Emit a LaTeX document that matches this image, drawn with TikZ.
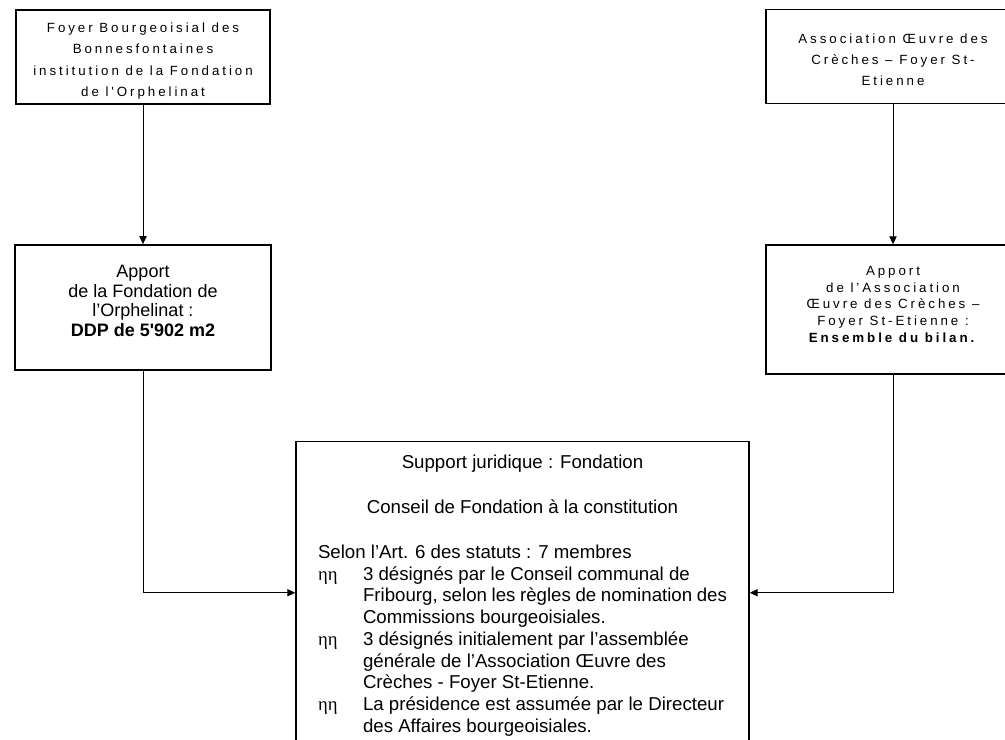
\documentclass[tikz,border=0pt]{standalone}
\usepackage{fontspec}
\setmainfont{Liberation Sans}[Ligatures=TeXOff]
\newfontfamily\widefont{Liberation Sans}[LetterSpace=22,Ligatures=TeXOff]
\newfontfamily\etafont{Liberation Serif}
\usetikzlibrary{positioning,arrows.meta}
\newcommand{\etaitem}{\par\noindent\hangindent=33.75pt\hangafter=1\makebox[33.75pt][l]{\etafont ηη}}

\begin{document}
\begin{tikzpicture}[x=0.75pt,y=-0.75pt,
  box/.style={draw,line width=1.1pt,align=center,minimum width=190.5pt,inner sep=0pt},
  topbox/.style={box,minimum height=70.5pt,font=\widefont\fontsize{10pt}{16pt}\selectfont},
  arr/.style={draw,line width=0.75pt,-{Triangle[length=6pt,width=5.5pt]}}]
\useasboundingbox (0,0) rectangle (1005,739);

\node[topbox] (foyer) at (143,57) {\rule{0pt}{13.5pt}Foyer Bourgeoisial des\\Bonnesfontaines\\institution de la Fondation\\de l'Orphelinat};
\node[topbox] (oeuvre) at (893,56.5) {\rule{0pt}{12pt}Association Œuvre des\\Crèches – Foyer St-\\Etienne};

\node[box,minimum width=192pt,minimum height=94pt,font=\fontsize{13.5pt}{14.6pt}\selectfont] (apportF) at (143,307.5) {Apport\\de la Fondation de\\l’Orphelinat :\\\textbf{DDP de 5'902 m2}\rule[-10pt]{0pt}{10pt}};
\node[box,minimum height=96.75pt,font=\widefont\fontsize{10pt}{12.5pt}\selectfont] (apportO) at (893,309.5) {Apport\\de l’Association\\Œuvre des Crèches –\\Foyer St-Etienne :\\\textbf{Ensemble du bilan.}\rule[-8pt]{0pt}{8pt}};

\node[box,anchor=north,inner xsep=16.5pt,font=\fontsize{14pt}{16.3pt}\selectfont] (conseil) at (522.5,441) {\parbox[c][226.5pt][t]{306.75pt}{%
{\centering\rule{0pt}{20pt}Support juridique : Fondation\par}
\vspace{17.45pt}
{\centering Conseil de Fondation à la constitution\par}
\vspace{17.45pt}
\noindent Selon l’Art. 6 des statuts : 7 membres
\etaitem 3 désignés par le Conseil communal de\newline Fribourg, selon les règles de nomination des\newline Commissions bourgeoisiales.
\etaitem 3 désignés initialement par l’assemblée\newline générale de l’Association Œuvre des\newline Crèches - Foyer St-Etienne.
\etaitem La présidence est assumée par le Directeur\newline des Affaires bourgeoisiales.\par}};

\path[arr] (foyer) -- (apportF);
\path[arr] (oeuvre) -- (apportO);
\path[arr] (apportF) |- (conseil);
\path[arr] (apportO) |- (conseil);
\end{tikzpicture}
\end{document}
